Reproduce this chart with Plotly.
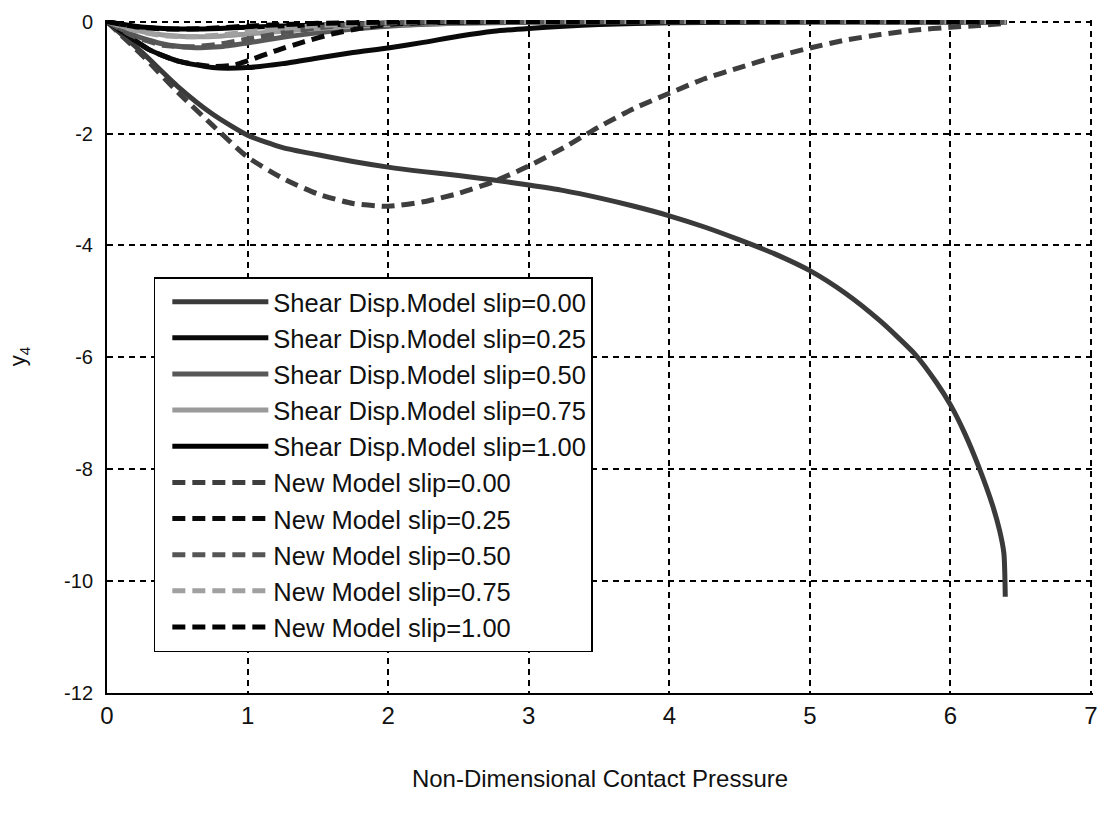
import plotly.graph_objects as go

# Non-dimensional contact pressure (x) and y4 response for each model / slip value
shear_000_x = [0, 0.25, 0.5, 0.75, 1.0, 1.25, 1.5, 1.75, 2.0, 2.25, 2.5, 2.75, 3.0, 3.25, 3.5, 3.75,
               4.0, 4.25, 4.5, 4.75, 5.0, 5.25, 5.5, 5.75, 5.9, 6.0, 6.1, 6.2, 6.3, 6.35, 6.38, 6.39]
shear_000_y = [0, -0.55, -1.15, -1.65, -2.03, -2.25, -2.38, -2.5, -2.6, -2.68, -2.75, -2.83, -2.92, -3.02,
               -3.15, -3.3, -3.47, -3.67, -3.9, -4.15, -4.45, -4.85, -5.35, -5.95, -6.45, -6.85, -7.35,
               -7.95, -8.65, -9.1, -9.5, -10.28]

shear_025_x = [0, 0.15, 0.3, 0.5, 0.75, 1.0, 1.25, 1.5, 1.75, 2.0, 2.25, 2.5, 2.75, 3.0, 3.25, 3.5, 4.0, 4.5, 5.0, 6.4]
shear_025_y = [0, -0.25, -0.5, -0.7, -0.82, -0.82, -0.75, -0.65, -0.55, -0.47, -0.37, -0.26, -0.17, -0.12,
               -0.08, -0.05, -0.02, -0.01, 0, 0]

shear_050_x = [0, 0.2, 0.4, 0.6, 0.8, 1.0, 1.25, 1.5, 1.75, 2.0, 2.5, 3.0, 3.5, 6.4]
shear_050_y = [0, -0.25, -0.4, -0.46, -0.45, -0.38, -0.28, -0.2, -0.13, -0.08, -0.03, -0.01, 0, 0]

shear_075_x = [0, 0.2, 0.4, 0.6, 0.8, 1.0, 1.25, 1.5, 1.75, 2.0, 2.5, 3.0, 6.4]
shear_075_y = [0, -0.15, -0.24, -0.27, -0.26, -0.22, -0.17, -0.12, -0.08, -0.05, -0.02, 0, 0]

shear_100_x = [0, 0.2, 0.4, 0.6, 0.8, 1.0, 1.5, 2.0, 2.5, 3.0, 6.4]
shear_100_y = [0, -0.08, -0.12, -0.13, -0.12, -0.1, -0.06, -0.03, -0.01, 0, 0]

new_000_x = [0, 0.25, 0.5, 0.75, 1.0, 1.25, 1.5, 1.75, 2.0, 2.25, 2.5, 2.75, 3.0, 3.25, 3.5, 3.75,
             4.0, 4.25, 4.5, 4.75, 5.0, 5.25, 5.5, 5.75, 6.0, 6.2, 6.4]
new_000_y = [0, -0.6, -1.25, -1.85, -2.42, -2.8, -3.08, -3.25, -3.3, -3.22, -3.07, -2.86, -2.58, -2.25,
             -1.88, -1.55, -1.28, -1.02, -0.82, -0.63, -0.47, -0.33, -0.23, -0.15, -0.1, -0.07, -0.03]

new_025_x = [0, 0.15, 0.3, 0.5, 0.75, 0.9, 1.0, 1.2, 1.4, 1.6, 1.8, 2.0, 2.3, 2.6, 6.4]
new_025_y = [0, -0.25, -0.5, -0.7, -0.8, -0.78, -0.7, -0.52, -0.36, -0.22, -0.12, -0.05, -0.01, 0, 0]

new_050_x = [0, 0.2, 0.4, 0.6, 0.8, 1.0, 1.25, 1.5, 1.75, 2.0, 2.5, 6.4]
new_050_y = [0, -0.27, -0.42, -0.45, -0.4, -0.31, -0.2, -0.11, -0.05, -0.02, 0, 0]

new_075_x = [0, 0.2, 0.4, 0.6, 0.8, 1.0, 1.25, 1.5, 1.75, 2.0, 2.5, 6.4]
new_075_y = [0, -0.16, -0.25, -0.27, -0.24, -0.18, -0.12, -0.07, -0.04, -0.02, 0, 0]

new_100_x = [0, 0.2, 0.4, 0.6, 0.8, 1.0, 1.5, 2.0, 2.5, 6.4]
new_100_y = [0, -0.09, -0.13, -0.13, -0.11, -0.08, -0.03, -0.01, 0, 0]

series_names = [
    "Shear Disp.Model slip=0.00", "Shear Disp.Model slip=0.25", "Shear Disp.Model slip=0.50",
    "Shear Disp.Model slip=0.75", "Shear Disp.Model slip=1.00",
    "New Model slip=0.00", "New Model slip=0.25", "New Model slip=0.50",
    "New Model slip=0.75", "New Model slip=1.00",
]
series_x = [shear_000_x, shear_025_x, shear_050_x, shear_075_x, shear_100_x,
            new_000_x, new_025_x, new_050_x, new_075_x, new_100_x]
series_y = [shear_000_y, shear_025_y, shear_050_y, shear_075_y, shear_100_y,
            new_000_y, new_025_y, new_050_y, new_075_y, new_100_y]
series_color = ["#3a3a3a", "#0a0a0a", "#585858", "#9a9a9a", "#000000",
                "#3e3e3e", "#0a0a0a", "#555555", "#a0a0a0", "#000000"]
series_dash = ["solid"] * 5 + ["13px,7px"] * 5

x_ticks = [0, 1, 2, 3, 4, 5, 6, 7]
y_ticks = [0, -2, -4, -6, -8, -10, -12]

fig = go.Figure()
for name, xs, ys, col, dash in zip(series_names, series_x, series_y, series_color, series_dash):
    fig.add_trace(go.Scatter(
        x=xs, y=ys, mode="lines", name=name,
        line=dict(color=col, width=5, dash=dash, shape="spline", smoothing=0.6),
    ))

grid_style = dict(showgrid=True, gridcolor="#000000", gridwidth=1.6, griddash="6px,5px",
                  zeroline=False, showline=True, linecolor="#000000", linewidth=2, mirror=False,
                  ticks="")

fig.update_xaxes(
    range=[0, 7.014], tickvals=x_ticks, ticktext=[str(v) for v in x_ticks],
    tickfont=dict(family="Liberation Sans Narrow, Liberation Sans, Arial", size=24, color="#111"),
    ticklabelstandoff=0, ticklabeloverflow="allow",
    title=dict(text="Non-Dimensional Contact Pressure", standoff=42,
               font=dict(family="Liberation Sans Narrow, Liberation Sans, Arial", size=24, color="#111")),
    **grid_style,
)
fig.update_yaxes(
    range=[-12, 0.03], tickvals=y_ticks, ticktext=[str(v) for v in y_ticks],
    tickfont=dict(family="Liberation Sans, Arial", size=20, color="#111"),
    ticklabelstandoff=8,
    title=dict(text="y<sub>4</sub>", standoff=32,
               font=dict(family="Liberation Sans, Arial", size=22, color="#111")),
    **grid_style,
)

fig.update_layout(
    width=1100, height=816,
    margin=dict(l=107, r=2, t=20, b=123),
    paper_bgcolor="white", plot_bgcolor="white",
    legend=dict(
        x=0.0475, y=0.618, xanchor="left", yanchor="top",
        bgcolor="white", bordercolor="#000000", borderwidth=1.5,
        font=dict(family="Liberation Sans, Arial", size=25.5, color="#111"),
        itemwidth=96, indentation=12, entrywidth=342, entrywidthmode="pixels",
    ),
)

fig.write_html("out.html")
